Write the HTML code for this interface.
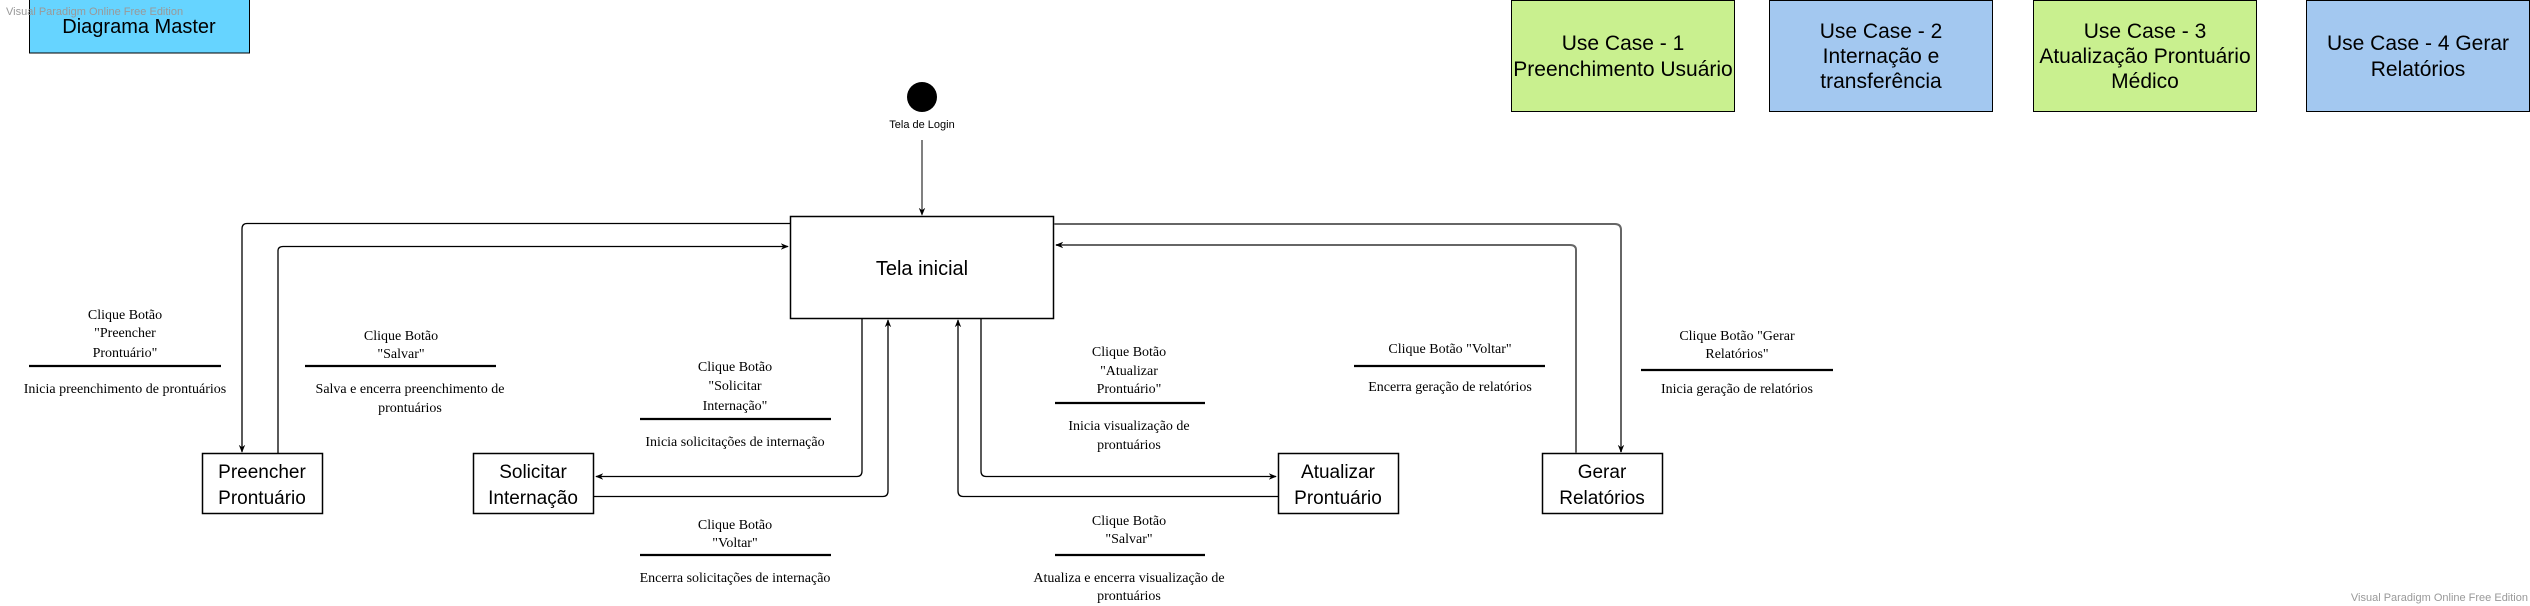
<!DOCTYPE html>
<html><head><meta charset="utf-8"><style>
html,body{margin:0;padding:0;background:#fff;}
svg{display:block}
.s{font-family:"Liberation Serif",serif;font-size:14px;fill:#000;text-anchor:middle}
.b{font-family:"Liberation Sans",sans-serif;font-size:19px;fill:#000;text-anchor:middle}
.u{font-family:"Liberation Sans",sans-serif;font-size:21px;fill:#000;text-anchor:middle}
.w{font-family:"Liberation Sans",sans-serif;font-size:11px;fill:#999}
</style></head><body>
<svg width="2530" height="606" viewBox="0 0 2530 606" xmlns="http://www.w3.org/2000/svg">
<defs>
<marker id="a" viewBox="0 0 10 10" refX="9" refY="5" markerWidth="8" markerHeight="8" orient="auto-start-reverse" markerUnits="userSpaceOnUse"><path d="M0,1 L10,5 L0,9 L3,5 z" fill="#000"/></marker>
<marker id="g" viewBox="0 0 10 10" refX="9" refY="5" markerWidth="8" markerHeight="8" orient="auto-start-reverse" markerUnits="userSpaceOnUse"><path d="M0,1 L10,5 L0,9 L3,5 z" fill="#000"/></marker>
</defs>
<rect x="29.5" y="-1" width="220" height="54" fill="#66d4ff" stroke="#000"/>
<text class="b" x="139" y="33" style="font-size:20px">Diagrama Master</text>
<text class="w" x="6" y="15">Visual Paradigm Online Free Edition</text>

<rect x="1511.5" y="0.5" width="223" height="111" fill="#c9f08f" stroke="#000"/>
<text class="u" x="1623" y="50">Use Case - 1</text><text class="u" x="1623" y="76">Preenchimento Usuário</text>
<rect x="1769.5" y="0.5" width="223" height="111" fill="#a3c8f0" stroke="#000"/>
<text class="u" x="1881" y="38">Use Case - 2</text><text class="u" x="1881" y="63">Internação e</text><text class="u" x="1881" y="88">transferência</text>
<rect x="2033.5" y="0.5" width="223" height="111" fill="#c9f08f" stroke="#000"/>
<text class="u" x="2145" y="38">Use Case - 3</text><text class="u" x="2145" y="63">Atualização Prontuário</text><text class="u" x="2145" y="88">Médico</text>
<rect x="2306.5" y="0.5" width="223" height="111" fill="#a3c8f0" stroke="#000"/>
<text class="u" x="2418" y="50">Use Case - 4 Gerar</text><text class="u" x="2418" y="76">Relatórios</text>

<ellipse cx="922" cy="97" rx="15" ry="15" fill="#000"/>
<text class="b" x="922" y="128" style="font-size:11px">Tela de Login</text>
<line x1="922" y1="140" x2="922" y2="215" stroke="#000" marker-end="url(#a)"/>

<rect x="790.5" y="216.5" width="263" height="102" fill="#fff" stroke="#000" stroke-width="1.5"/>
<text class="b" x="922" y="275" style="font-size:20px">Tela inicial</text>

<rect x="202.5" y="453.5" width="120" height="60" fill="#fff" stroke="#000" stroke-width="1.5"/>
<text class="b" x="262" y="478">Preencher</text><text class="b" x="262" y="504">Prontuário</text>
<rect x="473.5" y="453.5" width="120" height="60" fill="#fff" stroke="#000" stroke-width="1.5"/>
<text class="b" x="533" y="478">Solicitar</text><text class="b" x="533" y="504">Internação</text>
<rect x="1278.5" y="453.5" width="120" height="60" fill="#fff" stroke="#000" stroke-width="1.5"/>
<text class="b" x="1338" y="478">Atualizar</text><text class="b" x="1338" y="504">Prontuário</text>
<rect x="1542.5" y="453.5" width="120" height="60" fill="#fff" stroke="#000" stroke-width="1.5"/>
<text class="b" x="1602" y="478">Gerar</text><text class="b" x="1602" y="504">Relatórios</text>

<g fill="none" stroke="#000" stroke-width="1.3">
<path d="M790,223.5 H247 Q242,223.5 242,229 V452" marker-end="url(#a)"/>
<path d="M278,453 V251 Q278,246.5 283,246.5 H788" marker-end="url(#a)"/>
<path d="M862,319 V471 Q862,476.5 857,476.5 H596" marker-end="url(#a)"/>
<path d="M594,496.5 H883 Q888,496.5 888,491 V320" marker-end="url(#a)"/>
<path d="M1278,496.5 H963 Q958,496.5 958,491 V320" marker-end="url(#a)"/>
<path d="M981,319 V471 Q981,476.5 986,476.5 H1276" marker-end="url(#a)"/>
</g>
<g fill="none" stroke="#666" stroke-width="2">
<path d="M1054,224 H1615 Q1621,224 1621,230 V452" marker-end="url(#g)"/>
<path d="M1576,453 V250 Q1576,245 1570,245 H1056" marker-end="url(#g)"/>
</g>

<g class="s">
<text class="s" x="125" y="319">Clique Botão</text><text class="s" x="125" y="337">"Preencher</text><text class="s" x="125" y="357">Prontuário"</text>
<text class="s" x="125" y="393">Inicia preenchimento de prontuários</text>
<text class="s" x="401" y="340">Clique Botão</text><text class="s" x="401" y="358">"Salvar"</text>
<text class="s" x="410" y="393">Salva e encerra preenchimento de</text><text class="s" x="410" y="412">prontuários</text>
<text class="s" x="735" y="371">Clique Botão</text><text class="s" x="735" y="390">"Solicitar</text><text class="s" x="735" y="410">Internação"</text>
<text class="s" x="735" y="446">Inicia solicitações de internação</text>
<text class="s" x="735" y="529">Clique Botão</text><text class="s" x="735" y="547">"Voltar"</text>
<text class="s" x="735" y="582">Encerra solicitações de internação</text>
<text class="s" x="1129" y="356">Clique Botão</text><text class="s" x="1129" y="375">"Atualizar</text><text class="s" x="1129" y="393">Prontuário"</text>
<text class="s" x="1129" y="430">Inicia visualização de</text><text class="s" x="1129" y="449">prontuários</text>
<text class="s" x="1129" y="525">Clique Botão</text><text class="s" x="1129" y="543">"Salvar"</text>
<text class="s" x="1129" y="582">Atualiza e encerra visualização de</text><text class="s" x="1129" y="600">prontuários</text>
<text class="s" x="1450" y="353">Clique Botão "Voltar"</text>
<text class="s" x="1450" y="391">Encerra geração de relatórios</text>
<text class="s" x="1737" y="340">Clique Botão "Gerar</text><text class="s" x="1737" y="358">Relatórios"</text>
<text class="s" x="1737" y="393">Inicia geração de relatórios</text>
</g>
<g stroke="#000" stroke-width="2.2">
<line x1="29" y1="366" x2="221" y2="366"/>
<line x1="305" y1="366" x2="496" y2="366"/>
<line x1="640" y1="419" x2="831" y2="419"/>
<line x1="640" y1="555" x2="831" y2="555"/>
<line x1="1055" y1="403" x2="1205" y2="403"/>
<line x1="1055" y1="555" x2="1205" y2="555"/>
<line x1="1354" y1="366" x2="1545" y2="366"/>
<line x1="1641" y1="370" x2="1833" y2="370"/>
</g>
<text class="w" x="2528" y="601" text-anchor="end">Visual Paradigm Online Free Edition</text>
</svg>
</body></html>
